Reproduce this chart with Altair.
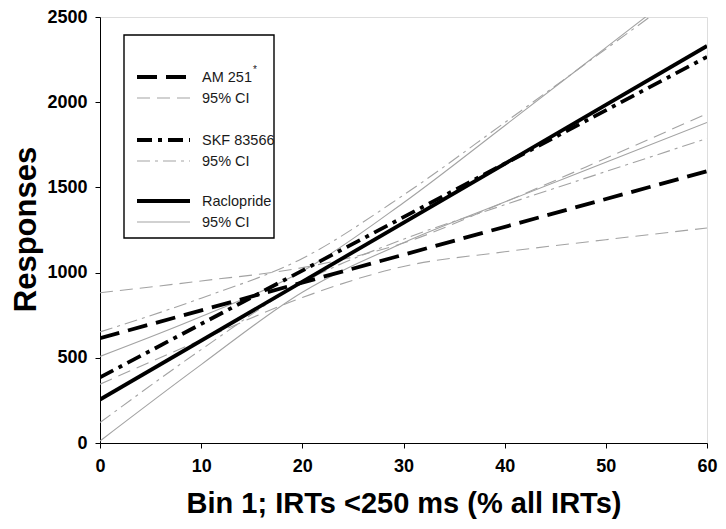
import altair as alt
import pandas as pd

# ---- data ----
x_curve = [0, 10, 20, 30, 40, 50, 60]
x_ends = [0, 60]

am_main = [615, 1595]
am_upper = [882, 951, 1029, 1174, 1414, 1671, 1933]
am_lower = [345, 605, 854, 1036, 1122, 1193, 1262]

skf_main = [385, 2266]
skf_upper = [652, 850, 1083, 1455, 1880, 2312, 2745]
skf_lower = [120, 548, 941, 1196, 1398, 1593, 1787]

rac_main = [255, 2330]
rac_upper = [508, 742, 1008, 1410, 1862, 2320, 2779]
rac_lower = [12, 460, 885, 1175, 1414, 1648, 1881]

x_ticks = [0, 10, 20, 30, 40, 50, 60]
y_ticks = [0, 500, 1000, 1500, 2000, 2500]

legend_labels = ["AM 251", "95% CI", "SKF 83566", "95% CI", "Raclopride", "95% CI"]

GRAY = "#a3a3a3"
FONT = "Liberation Sans"

# name, xs, ys, color, width, dash
series = [
    ("am_upper", x_curve, am_upper, GRAY, 1.1, [13, 7]),
    ("am_lower", x_curve, am_lower, GRAY, 1.1, [13, 7]),
    ("skf_upper", x_curve, skf_upper, GRAY, 1.1, [13, 5, 3, 5]),
    ("skf_lower", x_curve, skf_lower, GRAY, 1.1, [13, 5, 3, 5]),
    ("rac_upper", x_curve, rac_upper, GRAY, 1.1, None),
    ("rac_lower", x_curve, rac_lower, GRAY, 1.1, None),
    ("am_main", x_ends, am_main, "black", 3.8, [20, 9]),
    ("skf_main", x_ends, skf_main, "black", 3.8, [15, 6, 4, 6]),
    ("rac_main", x_ends, rac_main, "black", 3.8, None),
]

rows = []
for name, xs, ys, *_ in series:
    for xv, yv in zip(xs, ys):
        rows.append({"series": name, "x": xv, "y": yv})
df = pd.DataFrame(rows)

x_enc = alt.X(
    "x:Q",
    scale=alt.Scale(domain=[0, 60], nice=False),
    axis=alt.Axis(
        values=x_ticks, format="d", title="Bin 1; IRTs <250 ms (% all IRTs)", grid=False,
        labelFont=FONT, labelFontWeight="bold", labelFontSize=18, labelColor="black",
        labelPadding=9, labelFlush=False,
        tickColor="black", tickSize=5, domainColor="black",
        titleFont=FONT, titleFontWeight="bold", titleFontSize=29, titleColor="black",
        titleY=69, titleBaseline="alphabetic",
    ),
)
y_enc = alt.Y(
    "y:Q",
    scale=alt.Scale(domain=[0, 2500], nice=False),
    axis=alt.Axis(
        values=y_ticks, format="d", title="Responses", grid=False,
        labelFont=FONT, labelFontWeight="bold", labelFontSize=18, labelColor="black",
        labelPadding=8, labelFlush=False,
        tickColor="black", tickSize=5, domainColor="black",
        titleFont=FONT, titleFontWeight="bold", titleFontSize=31, titleColor="black",
        titleX=-65, titleY=212, titleBaseline="alphabetic",
    ),
)

layers = []
for name, xs, ys, color, width, dash in series:
    kw = dict(color=color, strokeWidth=width, clip=True, interpolate="monotone")
    if dash:
        kw["strokeDash"] = dash
    layers.append(
        alt.Chart(df).transform_filter(alt.datum.series == name)
        .mark_line(**kw).encode(x=x_enc, y=y_enc)
    )

one = pd.DataFrame({"k": [0]})
layers.append(
    alt.Chart(one).mark_rect(fill="white", stroke="black", strokeWidth=1.4).encode(
        x=alt.value(24), x2=alt.value(174), y=alt.value(18), y2=alt.value(221)
    )
)

leg_rows_y = [60, 81, 123, 144, 184, 205]
leg_styles = [
    ("black", 3.8, [20, 9]),
    (GRAY, 1.1, [13, 7]),
    ("black", 3.8, [15, 6, 4, 6]),
    (GRAY, 1.1, [13, 5, 3, 5]),
    ("black", 3.8, None),
    (GRAY, 1.1, None),
]
for yv, label, (color, width, dash) in zip(leg_rows_y, legend_labels, leg_styles):
    kw = dict(color=color, strokeWidth=width)
    if dash:
        kw["strokeDash"] = dash
    layers.append(
        alt.Chart(one).mark_rule(**kw).encode(
            x=alt.value(37), x2=alt.value(90), y=alt.value(yv)
        )
    )
    layers.append(
        alt.Chart(one).mark_text(
            align="left", baseline="middle", font=FONT, fontSize=14.5, color="#1a1a1a"
        ).encode(x=alt.value(102), y=alt.value(yv + 1), text=alt.value(label))
    )

layers.append(
    alt.Chart(one).mark_text(
        align="left", baseline="middle", font=FONT, fontSize=10, color="#1a1a1a"
    ).encode(x=alt.value(153), y=alt.value(53), text=alt.value("*"))
)

chart = alt.layer(*layers).properties(
    width=607, height=426,
    autosize=alt.AutoSizeParams(type="none"),
    padding={"left": 92, "top": 9, "right": 11, "bottom": 78},
).configure_view(stroke="black", strokeWidth=1).configure(background="white")

chart.save("out.html", embed_options={"renderer": "svg", "actions": False})
